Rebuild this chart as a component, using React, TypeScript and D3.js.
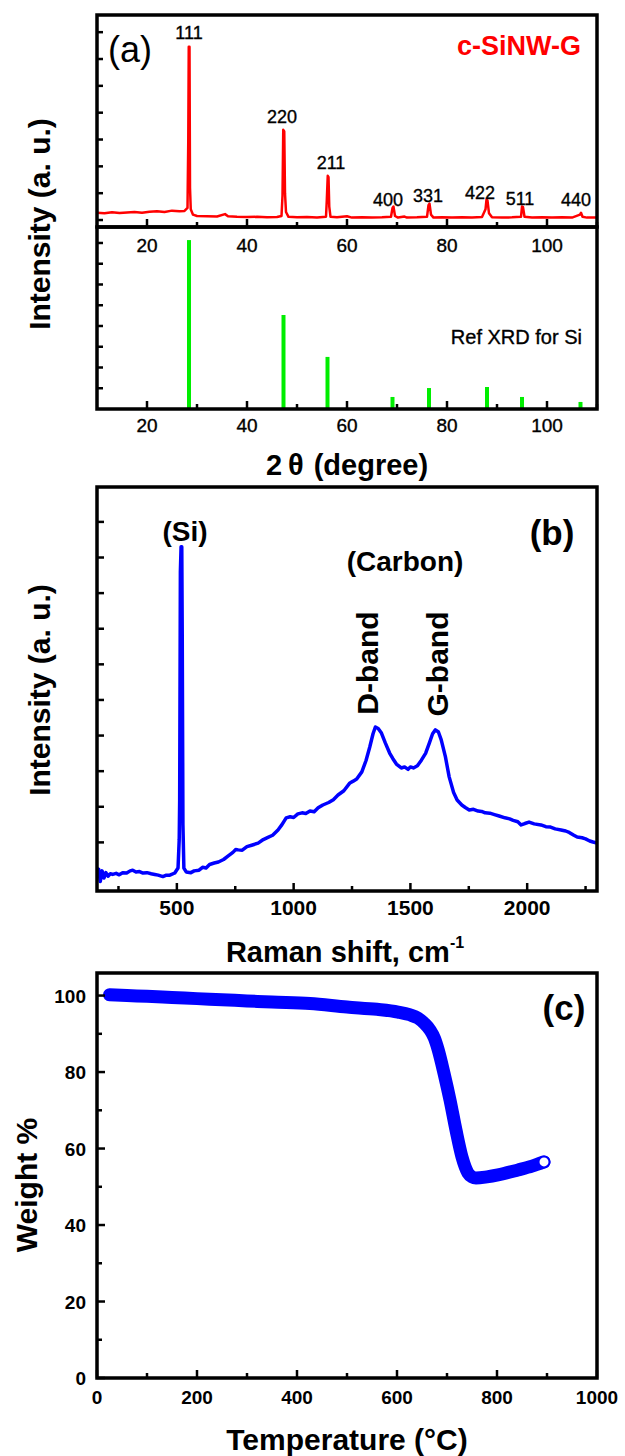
import React from 'react';
import * as d3 from 'd3';

// ---------- Panel (a): XRD ----------
const xrdTheta = [10, 11.5, 13, 14.5, 16, 17.5, 19, 20.5, 22, 23.5, 25, 26.5, 27.5, 28.1, 28.25, 28.35, 28.5, 28.6, 28.75, 29.2, 30, 32, 34, 35.6, 36.2, 38, 40, 42, 44, 46, 46.9, 47.1, 47.25, 47.45, 47.6, 47.8, 48.3, 50, 52, 54, 55.8, 55.95, 56.15, 56.3, 56.45, 56.7, 58, 60, 61, 63, 65, 67, 68.8, 69.1, 69.3, 69.6, 70.2, 71.5, 72, 74, 76, 76.3, 76.5, 76.8, 77.3, 79, 81, 83, 85, 87, 87.7, 87.9, 88.1, 88.4, 89, 91, 93, 94.8, 95.0, 95.2, 95.5, 97, 99, 101, 103, 105, 106.6, 106.8, 107.1, 108, 110];
const xrdIntensity = [0.27, 0.25, 0.29, 0.26, 0.28, 0.30, 0.27, 0.31, 0.33, 0.30, 0.35, 0.33, 0.34, 0.45, 2.9, 6.46, 6.46, 1.2, 0.4, 0.2, 0.15, 0.14, 0.13, 0.22, 0.14, 0.12, 0.11, 0.12, 0.10, 0.11, 0.15, 0.9, 3.36, 3.3, 1.0, 0.3, 0.12, 0.1, 0.11, 0.09, 0.12, 0.7, 1.65, 1.6, 0.5, 0.12, 0.10, 0.14, 0.09, 0.1, 0.09, 0.1, 0.12, 0.45, 0.5, 0.15, 0.09, 0.13, 0.09, 0.1, 0.12, 0.55, 0.61, 0.2, 0.09, 0.1, 0.09, 0.1, 0.09, 0.11, 0.4, 0.76, 0.72, 0.25, 0.1, 0.09, 0.1, 0.12, 0.5, 0.48, 0.12, 0.09, 0.1, 0.09, 0.1, 0.09, 0.2, 0.27, 0.12, 0.09, 0.09];

const peakLabels = ['111', '220', '211', '400', '331', '422', '511', '440'];
const peakLabelTheta = [28.4, 47.0, 56.8, 68.2, 76.2, 86.6, 94.6, 105.8];
const peakLabelLevel = [6.98, 3.84, 2.13, 0.75, 0.9, 1.01, 0.79, 0.75];

const refTheta = [28.4, 47.3, 56.1, 69.1, 76.4, 88.0, 95.0, 106.7];
const refIntensity = [8.14, 4.53, 2.51, 0.58, 1.01, 1.06, 0.58, 0.34];

const xrdTicks = [20, 40, 60, 80, 100];
const xrdMinorTicks = [30, 50, 70, 90, 110];
const xrdTopYTicks = [0, 1, 2, 3, 4, 5, 6, 7];
const xrdBotYTicks = [1, 2, 3, 4, 5, 6, 7, 8];

// ---------- Panel (b): Raman ----------
const ramanShift = [158, 165, 172, 180, 188, 196, 205, 215, 225, 240, 253, 268, 285, 300, 311, 325, 340, 355, 372, 390, 405, 420, 440, 455, 470, 491, 505, 510, 512, 515, 518, 521, 523, 526, 530, 540, 560, 574, 595, 610, 625, 640, 660, 678, 700, 720, 740, 752, 763, 780, 800, 820, 848, 870, 890, 910, 933, 950, 968, 985, 1000, 1018, 1036, 1052, 1070, 1088, 1105, 1125, 1150, 1170, 1190, 1215, 1241, 1255, 1270, 1292, 1310, 1326, 1340, 1350, 1362, 1376, 1392, 1411, 1425, 1440, 1461, 1475, 1490, 1500, 1513, 1530, 1547, 1565, 1581, 1595, 1607, 1620, 1632, 1650, 1666, 1685, 1700, 1720, 1735, 1752, 1770, 1790, 1805, 1820, 1840, 1860, 1880, 1905, 1925, 1940, 1960, 1974, 1990, 2008, 2030, 2059, 2080, 2100, 2120, 2145, 2165, 2180, 2200, 2214, 2235, 2250, 2268, 2282, 2299];
const ramanIntensity = [0.0, 0.25, -0.1, 0.2, 0.0, 0.15, 0.05, 0.12, 0.1, 0.13, 0.09, 0.15, 0.14, 0.2, 0.22, 0.17, 0.18, 0.14, 0.15, 0.12, 0.1, 0.08, 0.04, 0.08, 0.08, 0.14, 0.28, 1.07, 2.19, 8.6, 9.3, 9.3, 6.8, 1.49, 0.28, 0.17, 0.15, 0.2, 0.22, 0.3, 0.28, 0.38, 0.42, 0.45, 0.52, 0.62, 0.72, 0.8, 0.79, 0.78, 0.88, 0.92, 0.98, 1.08, 1.14, 1.2, 1.35, 1.5, 1.69, 1.72, 1.7, 1.8, 1.83, 1.81, 1.88, 1.86, 1.97, 2.05, 2.12, 2.2, 2.33, 2.45, 2.67, 2.72, 2.78, 2.98, 3.3, 3.68, 4.05, 4.24, 4.2, 4.07, 3.8, 3.51, 3.35, 3.2, 3.09, 3.12, 3.05, 3.12, 3.09, 3.15, 3.31, 3.5, 3.79, 4.05, 4.16, 4.1, 3.88, 3.4, 2.84, 2.4, 2.19, 2.05, 1.98, 1.91, 1.93, 1.88, 1.87, 1.83, 1.82, 1.78, 1.74, 1.69, 1.66, 1.62, 1.58, 1.49, 1.53, 1.57, 1.52, 1.49, 1.44, 1.43, 1.38, 1.35, 1.32, 1.28, 1.2, 1.15, 1.13, 1.1, 1.04, 1.01, 0.98];

const ramanTicks = [500, 1000, 1500, 2000];
const ramanMinorTicks = [250, 750, 1250, 1750, 2250];
const ramanYTicks = [1, 2, 3, 4, 5, 6, 7, 8, 9, 10];

// ---------- Panel (c): TGA ----------
const tgaTemp = [25, 60, 100, 150, 200, 250, 300, 350, 426, 500, 560, 602, 625, 642, 655, 666, 675, 682, 694, 706, 718, 730, 742, 750, 758, 780, 802, 842, 870, 894];
const tgaWeight = [100.2, 100.0, 99.8, 99.5, 99.2, 98.9, 98.6, 98.3, 97.9, 97.0, 96.4, 95.7, 95.0, 94.1, 92.7, 91.0, 88.8, 86.0, 79.7, 72.7, 64.8, 57.8, 53.6, 52.6, 52.3, 52.6, 53.1, 54.4, 55.4, 56.5];

const tgaXTicks = [0, 200, 400, 600, 800, 1000];
const tgaXMinor = [100, 300, 500, 700, 900];
const tgaYTicks = [0, 20, 40, 60, 80, 100];
const tgaYMinor = [10, 30, 50, 70, 90];

const FONT = "'Liberation Sans', Arial, Helvetica, sans-serif";

export default function App() {
  // Panel a geometry
  const L = 97, R = 597;
  const aTop = 15, aMid = 227, aBot = 409;
  const xA = d3.scaleLinear().domain([10, 110]).range([L, R]);
  const yAt = d3.scaleLinear().domain([-0.26, 7.64]).range([aMid, aTop]);
  const yAb = d3.scaleLinear().domain([0, 8.77]).range([aBot, aMid]);

  // Panel b
  const bTop = 487, bBot = 891;
  const xB = d3.scaleLinear().domain([158, 2299]).range([L, R]);
  const yB = d3.scaleLinear().domain([-0.365, 10.98]).range([bBot, bTop]);

  // Panel c
  const cTop = 973, cBot = 1378;
  const xC = d3.scaleLinear().domain([0, 1000]).range([L, R]);
  const yC = d3.scaleLinear().domain([0, 105.9]).range([cBot, cTop]);

  const xrdLine = d3.line<number>().x((d, i) => xA(xrdTheta[i])).y((d) => yAt(d));
  const ramanLine = d3.line<number>().x((d, i) => xB(ramanShift[i])).y((d) => yB(d));
  const tgaLine = d3.line<number>().x((d, i) => xC(tgaTemp[i])).y((d) => yC(d)).curve(d3.curveMonotoneX);

  const frame = { fill: 'none', stroke: '#000', strokeWidth: 3.5 };
  const tk = { stroke: '#000', strokeWidth: 2.5 };
  const heavy = { stroke: '#000', strokeWidth: 0.35 };

  const lastT = tgaTemp[tgaTemp.length - 1];
  const lastW = tgaWeight[tgaWeight.length - 1];

  return (
    <svg width={625} height={1456} style={{ position: 'absolute', left: 0, top: 0, background: '#fff' }} fontFamily={FONT}>
      <rect x={0} y={0} width={625} height={1456} fill="#fff" />

      {/* ===== Panel (a) ===== */}
      <defs>
        <clipPath id="clipA"><rect x={L} y={aTop} width={R - L} height={aMid - aTop} /></clipPath>
        <clipPath id="clipB"><rect x={L} y={bTop} width={R - L} height={bBot - bTop} /></clipPath>
      </defs>
      <path d={xrdLine(xrdIntensity) || ''} fill="none" stroke="#ff0000" strokeWidth={2.5} strokeLinejoin="round" clipPath="url(#clipA)" />
      {refTheta.map((t, i) => (
        <line key={'rb' + i} x1={xA(t)} x2={xA(t)} y1={yAb(0)} y2={yAb(refIntensity[i])} stroke="#00ee00" strokeWidth={4} />
      ))}
      {xrdTicks.map((t) => <line key={'at' + t} x1={xA(t)} x2={xA(t)} y1={aMid} y2={aMid - 8} {...tk} />)}
      {xrdMinorTicks.map((t) => <line key={'atm' + t} x1={xA(t)} x2={xA(t)} y1={aMid} y2={aMid - 5} {...tk} />)}
      {xrdTicks.map((t) => <line key={'ab' + t} x1={xA(t)} x2={xA(t)} y1={aBot} y2={aBot - 8} {...tk} />)}
      {xrdMinorTicks.map((t) => <line key={'abm' + t} x1={xA(t)} x2={xA(t)} y1={aBot} y2={aBot - 5} {...tk} />)}
      {xrdTopYTicks.map((v) => <line key={'aty' + v} x1={L} x2={L + 6} y1={yAt(v)} y2={yAt(v)} {...tk} />)}
      {xrdBotYTicks.map((v) => <line key={'aby' + v} x1={L} x2={L + 6} y1={yAb(v)} y2={yAb(v)} {...tk} />)}
      <rect x={L} y={aTop} width={R - L} height={aMid - aTop} {...frame} />
      <rect x={L} y={aMid} width={R - L} height={aBot - aMid} {...frame} />
      {xrdTicks.map((t) => <text key={'atl' + t} x={xA(t)} y={aMid + 25} fontSize={19} textAnchor="middle" {...heavy}>{t}</text>)}
      {xrdTicks.map((t) => <text key={'abl' + t} x={xA(t)} y={aBot + 23} fontSize={19} textAnchor="middle" {...heavy}>{t}</text>)}
      {peakLabels.map((s, i) => (
        <text key={'pl' + s} x={xA(peakLabelTheta[i])} y={yAt(peakLabelLevel[i]) + 6.5} fontSize={18} textAnchor="middle" {...heavy}>{s}</text>
      ))}
      <text x={130} y={62} fontSize={36} textAnchor="middle">(a)</text>
      <text x={581} y={55} fontSize={27} fontWeight="bold" fill="#ff0000" textAnchor="end">c-SiNW-G</text>
      <text x={582} y={344} fontSize={20} textAnchor="end" {...heavy}>Ref XRD for Si</text>
      <text transform="translate(50,224) rotate(-90)" fontSize={30} fontWeight="bold" textAnchor="middle">Intensity (a. u.)</text>
      <text x={347} y={475} fontSize={29} fontWeight="bold" textAnchor="middle">
        <tspan>2</tspan><tspan dx={6}>θ</tspan><tspan dx={10}>(degree)</tspan>
      </text>

      {/* ===== Panel (b) ===== */}
      <path d={ramanLine(ramanIntensity) || ''} fill="none" stroke="#0000ff" strokeWidth={3.5} strokeLinejoin="round" clipPath="url(#clipB)" />
      {ramanTicks.map((t) => <line key={'bt' + t} x1={xB(t)} x2={xB(t)} y1={bBot} y2={bBot - 8} {...tk} />)}
      {ramanMinorTicks.map((t) => <line key={'btm' + t} x1={xB(t)} x2={xB(t)} y1={bBot} y2={bBot - 5} {...tk} />)}
      {ramanYTicks.map((v) => <line key={'by' + v} x1={L} x2={L + 7} y1={yB(v)} y2={yB(v)} {...tk} />)}
      <rect x={L} y={bTop} width={R - L} height={bBot - bTop} {...frame} />
      {ramanTicks.map((t) => <text key={'btl' + t} x={xB(t)} y={bBot + 24} fontSize={21} fontWeight="bold" textAnchor="middle">{t}</text>)}
      <text x={185} y={541} fontSize={28} fontWeight="bold" textAnchor="middle">(Si)</text>
      <text x={405} y={571} fontSize={28} fontWeight="bold" textAnchor="middle">(Carbon)</text>
      <text transform="translate(378,663) rotate(-90)" fontSize={30} fontWeight="bold" textAnchor="middle">D-band</text>
      <text transform="translate(448,664) rotate(-90)" fontSize={30} fontWeight="bold" textAnchor="middle">G-band</text>
      <text x={552} y={545} fontSize={35} fontWeight="bold" textAnchor="middle">(b)</text>
      <text transform="translate(50,690) rotate(-90)" fontSize={30} fontWeight="bold" textAnchor="middle">Intensity (a. u.)</text>
      <text x={345} y={962} fontSize={29} fontWeight="bold" textAnchor="middle">
        Raman shift, cm<tspan dy={-14} fontSize={16}>-1</tspan>
      </text>

      {/* ===== Panel (c) ===== */}
      <path d={tgaLine(tgaWeight) || ''} fill="none" stroke="#0000ff" strokeWidth={13} strokeLinecap="round" strokeLinejoin="round" />
      <circle cx={xC(lastT)} cy={yC(lastW)} r={5.5} fill="#fff" stroke="#0000ff" strokeWidth={2} />
      {tgaXTicks.map((t) => <line key={'ct' + t} x1={xC(t)} x2={xC(t)} y1={cBot} y2={cBot - 8} {...tk} />)}
      {tgaXMinor.map((t) => <line key={'ctm' + t} x1={xC(t)} x2={xC(t)} y1={cBot} y2={cBot - 5} {...tk} />)}
      {tgaYTicks.map((v) => <line key={'cy' + v} x1={L} x2={L + 8} y1={yC(v)} y2={yC(v)} {...tk} />)}
      {tgaYMinor.map((v) => <line key={'cym' + v} x1={L} x2={L + 5} y1={yC(v)} y2={yC(v)} {...tk} />)}
      <rect x={L} y={cTop} width={R - L} height={cBot - cTop} {...frame} />
      {tgaXTicks.map((t) => <text key={'ctl' + t} x={xC(t)} y={cBot + 26} fontSize={19} fontWeight="bold" textAnchor="middle">{t}</text>)}
      {tgaYTicks.map((v) => <text key={'cyl' + v} x={86} y={yC(v) + 7} fontSize={19} fontWeight="bold" textAnchor="end">{v}</text>)}
      <text x={564} y={1020} fontSize={35} fontWeight="bold" textAnchor="middle">(c)</text>
      <text transform="translate(37,1185) rotate(-90)" fontSize={30} fontWeight="bold" textAnchor="middle">Weight %</text>
      <text x={347} y={1450} fontSize={30} fontWeight="bold" textAnchor="middle">Temperature (°C)</text>
    </svg>
  );
}
